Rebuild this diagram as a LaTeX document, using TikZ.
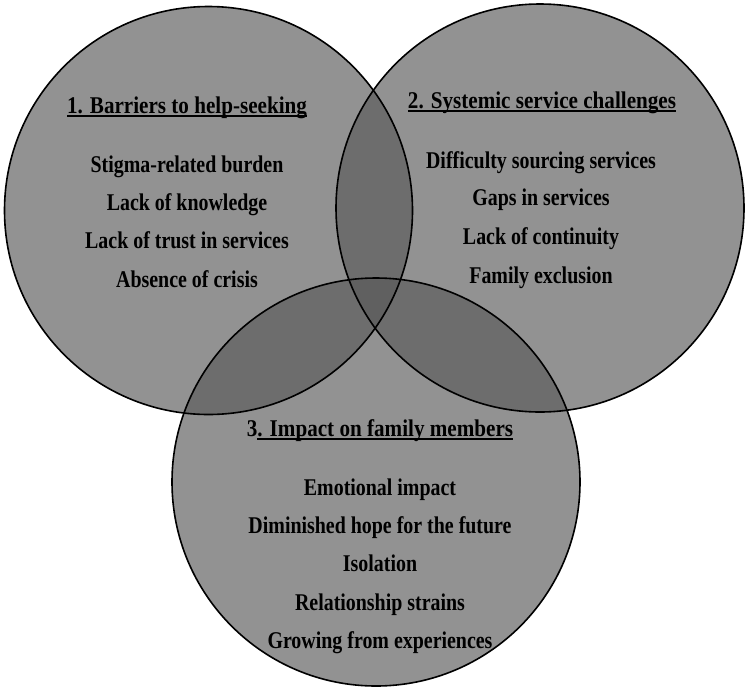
\documentclass[tikz,border=0pt]{standalone}
\usepackage{fontspec}
\usepackage{graphicx}
\setmainfont{Liberation Serif}
\definecolor{circfill}{RGB}{89,89,89}
\newcommand\myul[1]{\setbox0\hbox{#1}\rlap{\rule[-3.2pt]{\wd0}{1.9pt}}\box0}
\newcommand\itm[1]{\scalebox{0.83}[1]{#1}}
\newcommand\hdg[1]{\scalebox{0.88}[1]{#1}}
\begin{document}
\begin{tikzpicture}[x=1pt,y=-1pt,
  venn/.style={circle, minimum size=408pt, inner sep=0pt},
  vennfill/.style={venn, fill=circfill, fill opacity=0.66},
  vennline/.style={venn, draw=black, line width=1.6pt},
  lab/.style={font=\fontsize{24}{28}\selectfont\bfseries, text height=16pt, text depth=5pt, inner sep=0pt, anchor=center}]
\useasboundingbox (0,0) rectangle (750,694);
\node[vennfill] (f1) at (208.5,210.5) {};
\node[vennfill] (f2) at (540,208) {};
\node[vennfill] (f3) at (376,482) {};
\node[vennline] (c1) at (208.5,210.5) {};
\node[vennline] (c2) at (540,208) {};
\node[vennline] (c3) at (376,482) {};
% circle 1
\node[lab] (h1) at (187,108) {\hdg{\myul{1. Barriers to help-seeking}}};
\node[lab] (a1) at (187,167) {\itm{Stigma-related burden}};
\node[lab] (a2) at (187,205) {\itm{Lack of knowledge}};
\node[lab] (a3) at (187,243) {\itm{Lack of trust in services}};
\node[lab] (a4) at (187,282) {\itm{Absence of crisis}};
% circle 2
\node[lab] (h2) at (542,103) {\hdg{\myul{2. Systemic service challenges}}};
\node[lab] (b1) at (541,163) {\itm{Difficulty sourcing services}};
\node[lab] (b2) at (541,200) {\itm{Gaps in services}};
\node[lab] (b3) at (541,239) {\itm{Lack of continuity}};
\node[lab] (b4) at (541,278) {\itm{Family exclusion}};
% circle 3
\node[lab] (h3) at (380,431) {\hdg{3\myul{. Impact on family members}}};
\node[lab] (d1) at (380,490) {\itm{Emotional impact}};
\node[lab] (d2) at (380,528) {\itm{Diminished hope for the future}};
\node[lab] (d3) at (380,566) {\itm{Isolation}};
\node[lab] (d4) at (380,605) {\itm{Relationship strains}};
\node[lab] (d5) at (380,643) {\itm{Growing from experiences}};
\end{tikzpicture}
\end{document}
